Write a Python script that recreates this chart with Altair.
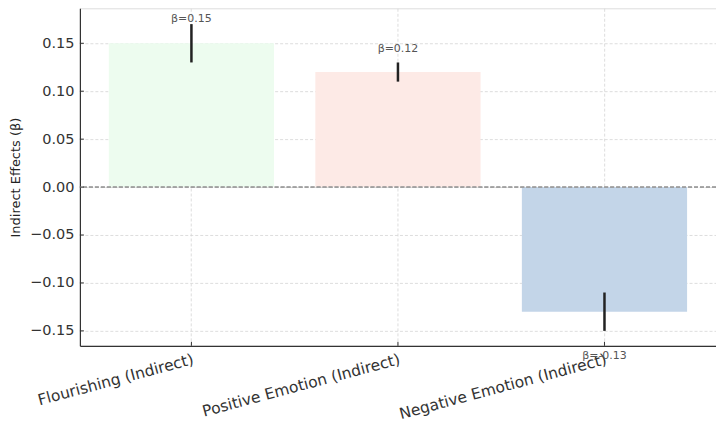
import altair as alt
import pandas as pd

categories = ["Flourishing (Indirect)", "Positive Emotion (Indirect)", "Negative Emotion (Indirect)"]
effects = [0.15, 0.12, -0.13]
errors = [0.02, 0.01, 0.02]
bar_colors = ["#edfcef", "#fdeae6", "#c3d5e8"]
label_y = [0.175, 0.144, -0.176]
y_ticks = [-0.15, -0.10, -0.05, 0.00, 0.05, 0.10, 0.15]

df = pd.DataFrame({
    "cat": categories,
    "eff": effects,
    "lo": [e - r for e, r in zip(effects, errors)],
    "hi": [e + r for e, r in zip(effects, errors)],
    "ly": label_y,
    "txt": [f"β={v:.2f}" for v in effects],
})
ticks_df = pd.DataFrame({"t": y_ticks})

W, H = 637, 338
FONT = "DejaVu Sans"

xscale = alt.Scale(domain=categories, paddingInner=0.2, paddingOuter=0.14)
yscale = alt.Scale(domain=[-0.1656, 0.1865], nice=False, zero=False)

base = alt.Chart(df)

bars = base.mark_bar().encode(
    x=alt.X("cat:N", scale=xscale, sort=categories,
            axis=alt.Axis(title=None, labelAngle=-15, labelAlign="right", labelBaseline="top",
                          labelFontSize=15.5, labelColor="#333", labelPadding=6, tickSize=0,
                          labelLimit=0, labelOverlap=False,
                          grid=True, gridColor="#d4d4d4", gridDash=[3, 2], gridWidth=0.8,
                          domainColor="#333", domainWidth=1.2, labelFont=FONT)),
    y=alt.Y("eff:Q", scale=yscale,
            axis=alt.Axis(title="Indirect Effects (β)", values=y_ticks, format=".2f",
                          labelFontSize=14.5, labelColor="#333", labelPadding=6, tickSize=0,
                          titleFontSize=13, titleFontWeight="normal", titleColor="#222",
                          titlePadding=7, titleFont=FONT, labelFont=FONT,
                          grid=True, gridColor="#d4d4d4", gridDash=[3, 2], gridWidth=0.8,
                          domainColor="#333", domainWidth=1.2)),
    y2=alt.datum(0),
    color=alt.Color("cat:N", scale=alt.Scale(domain=categories, range=bar_colors), legend=None),
)

zero = alt.Chart(df).mark_rule(color="#999", strokeDash=[4, 2], strokeWidth=1).encode(
    y=alt.datum(0, scale=yscale)
)

err = base.mark_rule(color="#222", strokeWidth=2.5).encode(
    x=alt.X("cat:N", scale=xscale, sort=categories),
    y=alt.Y("lo:Q", scale=yscale),
    y2="hi:Q",
)

txt = base.mark_text(fontSize=11, color="#555", font=FONT, baseline="middle").encode(
    x=alt.X("cat:N", scale=xscale, sort=categories),
    y=alt.Y("ly:Q", scale=yscale),
    text="txt:N",
)

yt = alt.Chart(ticks_df).mark_rule(color="#333", strokeWidth=1).encode(
    y=alt.Y("t:Q", scale=yscale),
    x=alt.value(0),
    x2=alt.value(4),
)

xt = base.mark_rule(color="#333", strokeWidth=1).encode(
    x=alt.X("cat:N", scale=xscale, sort=categories),
    y=alt.value(H),
    y2=alt.value(H - 4),
)

chart = alt.layer(bars, zero, err, yt, xt, txt).properties(
    width=W, height=H,
    autosize=alt.AutoSizeParams(type="none"),
    padding={"left": 72, "top": 0, "right": 0, "bottom": 80},
).configure_view(stroke=None).configure(font=FONT)

chart.save("out.html", embed_options={"renderer": "svg", "actions": False})
